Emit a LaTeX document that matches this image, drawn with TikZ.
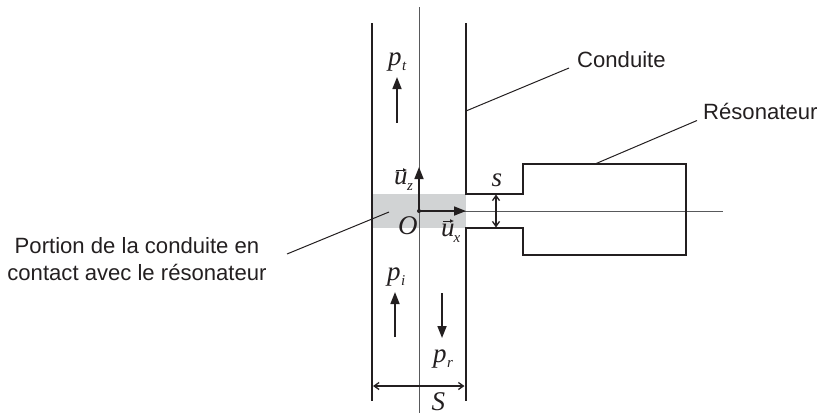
\documentclass[tikz,border=0pt]{standalone}
\usepackage{fontspec}
\setmainfont{Liberation Sans}
\newfontfamily\mathish{Liberation Serif}
\usetikzlibrary{arrows.meta}
\definecolor{ink}{HTML}{231F20}
\definecolor{axisgray}{HTML}{58595B}
\definecolor{zonegray}{HTML}{D1D3D4}
\tikzset{
  wall/.style={draw=ink,line width=2pt,line join=miter},
  axisline/.style={draw=axisgray,line width=1pt},
  leader/.style={draw=ink,line width=1pt},
  bigarrow/.style={draw=ink,line width=1.7pt,-{Triangle[length=12pt,width=9pt]}},
  dim/.style={draw=ink,line width=1.3pt,{Straight Barb[length=5pt,width=7pt]}-{Straight Barb[length=5pt,width=7pt]}},
  caption/.style={font=\fontsize{22.1}{26.6}\selectfont,text=ink,inner sep=0pt},
  sym/.style={font=\mathish\itshape\fontsize{27}{27}\selectfont,text=ink,inner sep=0pt},
  sub/.style={font=\mathish\itshape\fontsize{15}{15}\selectfont,text=ink,inner sep=0pt},
  vecbar/.style={draw=ink,line width=0.8pt,-{Latex[length=4pt,width=4pt]}}
}
\begin{document}
\begin{tikzpicture}[x=1pt,y=-1pt]
\useasboundingbox (0,0) rectangle (820,413);
\fill[zonegray] (372,194) rectangle (465.5,228);
\draw[axisline] (419,7) -- (419,413);
\draw[axisline] (419,211) -- (723,211);
\draw[wall] (372,23) -- (372,401);
\draw[wall] (465.5,23) -- (465.5,193.5) -- (523,193.5) -- (523,164) -- (686,164) -- (686,255) -- (523,255) -- (523,228) -- (465.5,228) -- (465.5,401);
\coordinate (O) at (419,211);
\coordinate (uzend) at (419,167);
\coordinate (uxend) at (466,211);
\fill[ink] (O) circle (2pt);
\draw[bigarrow] (O) -- (uzend);
\draw[bigarrow] (O) -- (uxend);
\coordinate (sa) at (496,194.5);
\coordinate (sb) at (496,227.5);
\draw[dim] (sa) -- (sb);
\coordinate (Sa) at (373,386);
\coordinate (Sb) at (464.5,386);
\draw[dim] (Sa) -- (Sb);
\coordinate (pta) at (397,122.5);
\coordinate (ptb) at (397,77);
\draw[bigarrow] (pta) -- (ptb);
\coordinate (pia) at (395,337);
\coordinate (pib) at (395,292);
\draw[bigarrow] (pia) -- (pib);
\coordinate (pra) at (442,293);
\coordinate (prb) at (442,338);
\draw[bigarrow] (pra) -- (prb);
\node[caption,anchor=base west] (cond) at (577,67) {Conduite};
\node[caption,anchor=base west] (reso) at (703,119.5) {Résonateur};
\node[caption,align=center,anchor=center] (port) at (137,259) {Portion de la conduite en\\contact avec le résonateur};
\coordinate (c1) at (466,111);
\coordinate (c2) at (569,68);
\draw[leader] (c1) -- (c2);
\coordinate (r1) at (595,164);
\coordinate (r2) at (697,120.5);
\draw[leader] (r1) -- (r2);
\coordinate (p1) at (389,212);
\coordinate (p2) at (287,254);
\draw[leader] (p1) -- (p2);
\node[sym,anchor=base west] (lpt) at (388,65) {p};
\node[sub,anchor=base west] (lpts) at (402,70) {t};
\node[sym,anchor=base west] (lpi) at (387,280) {p};
\node[sub,anchor=base west] (lpis) at (401,285) {i};
\node[sym,anchor=base west] (lpr) at (433,362) {p};
\node[sub,anchor=base west] (lprs) at (447,367) {r};
\node[sym,anchor=base west] (ls) at (491.5,186) {s};
\node[sym,anchor=base west] (lS) at (431.5,410) {S};
\node[sym,anchor=base west] (lO) at (398,234) {O};
\node[sym,anchor=base west] (luz) at (394,184) {u};
\node[sub,anchor=base west] (luzs) at (407,190) {z};
\node[sym,anchor=base west] (lux) at (441,236) {u};
\node[sub,anchor=base west] (luxs) at (453.5,242) {x};
\coordinate (vz1) at (396,170);
\coordinate (vz2) at (407,170);
\coordinate (vx1) at (443,221);
\coordinate (vx2) at (454,221);
\draw[vecbar] (vz1) -- (vz2);
\draw[vecbar] (vx1) -- (vx2);
\end{tikzpicture}
\end{document}
